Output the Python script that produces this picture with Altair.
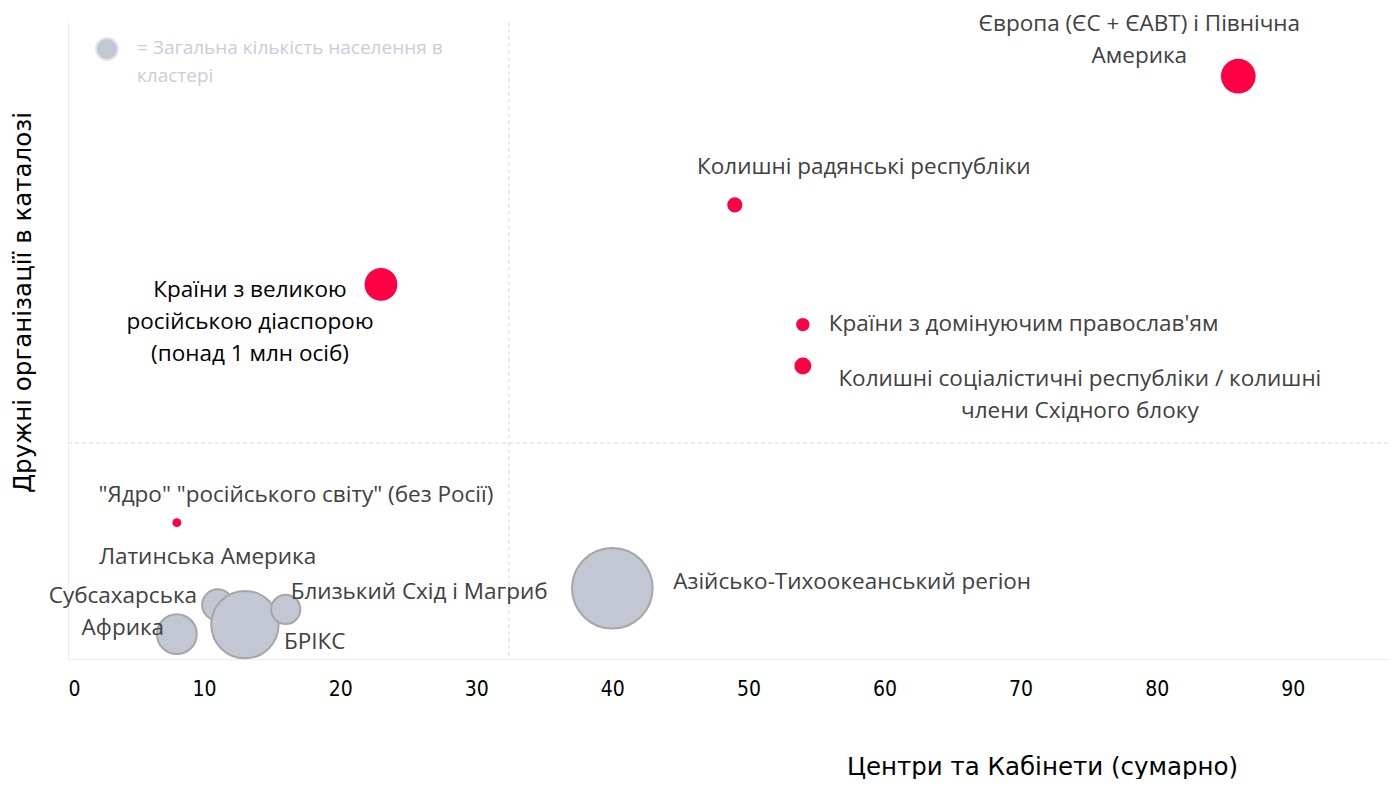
import altair as alt
import pandas as pd

# ---------------- data ----------------
regions = [
    "Європа (ЄС + ЄАВТ) і Північна Америка",
    "Колишні радянські республіки",
    "Країни з великою російською діаспорою (понад 1 млн осіб)",
    "Країни з домінуючим православ'ям",
    "Колишні соціалістичні республіки / колишні члени Східного блоку",
    "\"Ядро\" \"російського світу\" (без Росії)",
    "Латинська Америка",
    "Субсахарська Африка",
    "БРІКС",
    "Близький Схід і Магриб",
    "Азійсько-Тихоокеанський регіон",
]
label_text = [
    "Європа (ЄС + ЄАВТ) і Північна\nАмерика",
    "Колишні радянські республіки",
    "Країни з великою\nросійською діаспорою\n(понад 1 млн осіб)",
    "Країни з домінуючим православ'ям",
    "Колишні соціалістичні республіки / колишні\nчлени Східного блоку",
    "\"Ядро\" \"російського світу\" (без Росії)",
    "Латинська Америка",
    "Субсахарська\nАфрика",
    "БРІКС",
    "Близький Схід і Магриб",
    "Азійсько-Тихоокеанський регіон",
]
centers_cabinets = [86, 49, 23, 54, 54, 8, 11, 8, 13, 16, 40]
friendly_orgs = [91.5, 71.3, 58.8, 52.5, 46.0, 21.4, 8.5, 3.9, 5.4, 7.8, 11.1]
population = [840, 160, 750, 125, 200, 55, 675, 1110, 3180, 600, 4550]
kind = ["friendly"] * 6 + ["population"] * 5

ref_x = [32.4]
ref_y = [33.9]

legend_text = ["= Загальна кількість населення в\nкластері"]

df = pd.DataFrame({
    "region": regions,
    "label": label_text,
    "x": centers_cabinets,
    "y": friendly_orgs,
    "pop": population,
    "kind": kind,
})

# ---------------- styles ----------------
RED = "#ff0044"
GREY_FILL = "#c3c6d3"
GREY_STROKE = "#a6a6a6"
TXT = "#404040"
FONT = "Open Sans"
LABEL_SIZE = 22.5
TITLE_FONT = "DejaVu Sans"
TICK_FONT = "'Liberation Sans Narrow', 'DejaVu Sans Condensed', 'Liberation Sans', sans-serif"

W, H = 1320, 637
xs = alt.Scale(domain=[0, 97], nice=False, zero=False)
ys = alt.Scale(domain=[0, 100], nice=False, zero=False)
size_scale = alt.Scale(type="linear", domain=[0, 4550], range=[0, 6504])

X = alt.X("x:Q", scale=xs,
          axis=alt.Axis(values=list(range(0, 100, 10)), title="Центри та Кабінети (сумарно)",
                        labelFont=TICK_FONT, labelFontSize=21, labelColor="#000000",
                        labelPadding=19, ticks=False, grid=False,
                        domainColor="#ececec", domainWidth=1,
                        titleFont=TITLE_FONT, titleFontSize=24.5, titleFontWeight="normal",
                        titleColor="#000000", titleX=974, titleY=108,
                        titleAlign="center", titleBaseline="middle", titleAnchor="start"))
Y = alt.Y("y:Q", scale=ys,
          axis=alt.Axis(title="Дружні організації в каталозі", labels=False, ticks=False, grid=False,
                        domainColor="#ececec", domainWidth=1,
                        titleFont=TITLE_FONT, titleFontSize=24.5, titleFontWeight="normal",
                        titleColor="#000000", titleX=-45, titleY=280, titleAngle=270,
                        titleAlign="center", titleBaseline="middle", titleAnchor="start"))

base = alt.Chart(df)

# reference (dashed) lines
vline = alt.Chart(pd.DataFrame({"rx": ref_x})).mark_rule(
    color="#d9d9d9", strokeDash=[4, 3], strokeWidth=1
).encode(x=alt.X("rx:Q", scale=xs))
hline = alt.Chart(pd.DataFrame({"ry": ref_y})).mark_rule(
    color="#d9d9d9", strokeDash=[4, 3], strokeWidth=1
).encode(y=alt.Y("ry:Q", scale=ys))

grey_pts = base.transform_filter(alt.datum.kind == "population").mark_circle(
    color=GREY_FILL, opacity=1, stroke=GREY_STROKE, strokeWidth=2
).encode(x=X, y=Y, size=alt.Size("pop:Q", scale=size_scale, legend=None))

red_pts = base.transform_filter(alt.datum.kind == "friendly").mark_circle(
    color=RED, opacity=1
).encode(x=X, y=Y, size=alt.Size("pop:Q", scale=size_scale, legend=None))

# label placements (first line relative to point): (dx, dy, align, colour)
placements = [
    (-99, -52, "center", TXT),
    (129, -38, "center", TXT),
    (-131, 6, "center", "#000000"),
    (26, -1, "left", TXT),
    (277, 13, "center", TXT),
    (119, -28, "center", TXT),
    (-10, -48, "center", TXT),
    (-54, -38, "center", TXT),
    (39, 17, "left", TXT),
    (5, -17, "left", TXT),
    (61, -6, "left", TXT),
]

text_layers = []
for name, (dx, dy, align, col) in zip(regions, placements):
    text_layers.append(
        base.transform_filter(alt.datum.region == name).mark_text(
            dx=dx, dy=dy, align=align, baseline="middle", font=FONT,
            fontSize=LABEL_SIZE, color=col, lineBreak="\n", lineHeight=32
        ).encode(x=alt.X("x:Q", scale=xs), y=alt.Y("y:Q", scale=ys), text="label:N")
    )

# legend annotation (top-left)
leg_dot = alt.Chart(pd.DataFrame({"t": legend_text})).mark_circle(
    color=GREY_FILL, opacity=1, stroke="#e4e4ec", strokeWidth=2, size=480
).encode(x=alt.value(39), y=alt.value(27))
leg_txt = alt.Chart(pd.DataFrame({"t": legend_text})).mark_text(
    align="left", baseline="middle", font=FONT, fontSize=19, color="#cbcbdb",
    lineBreak="\n", lineHeight=28
).encode(x=alt.value(69), y=alt.value(26), text="t:N")

chart = alt.layer(
    vline, hline, grey_pts, red_pts, *text_layers, leg_dot, leg_txt
).properties(
    width=W, height=H,
    autosize=alt.AutoSizeParams(type="none"),
    padding={"left": 60, "top": 14, "right": 0, "bottom": 120},
).configure_view(stroke=None).configure_axis(domainColor="#ececec")

chart.save("out.html", embed_options={"renderer": "svg", "actions": False})
